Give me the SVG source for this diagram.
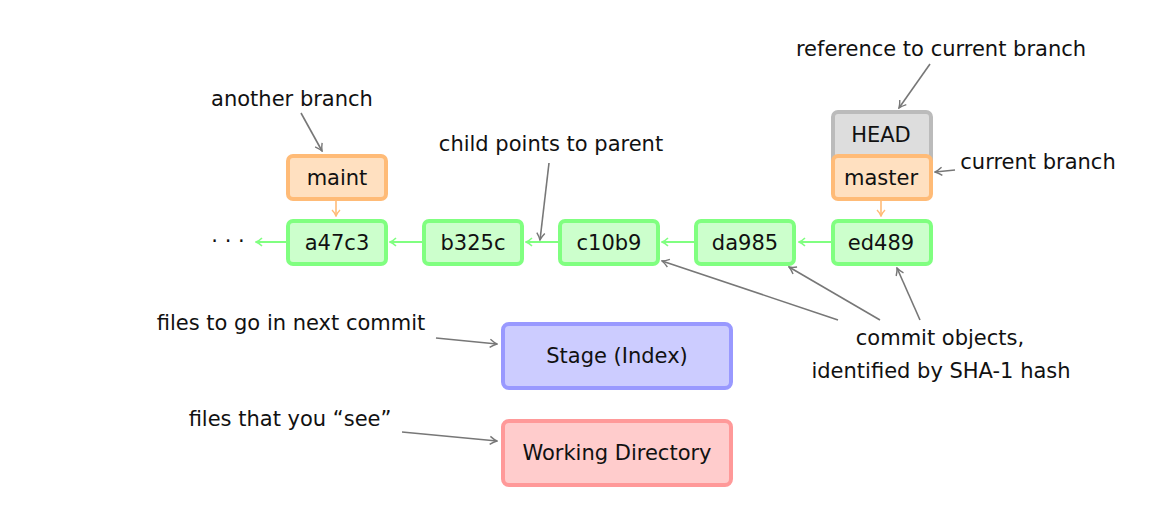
<svg xmlns="http://www.w3.org/2000/svg" width="1167" height="508" viewBox="0 0 1167 508">
  <defs>
    <style>
      text { font-family: "DejaVu Sans", "Liberation Sans", sans-serif; font-size: 21px; fill: #111; text-anchor: middle; }
      .box { stroke-width: 4; }
      .commit { fill: #ccffcc; stroke: #80ff80; }
      .branch { fill: #ffe0c0; stroke: #ffbb77; }
      .head { fill: #dddddd; stroke: #bbbbbb; }
      .stage { fill: #ccccff; stroke: #9999ff; }
      .work { fill: #ffcccc; stroke: #ff9999; }
      .gl { stroke: #80ff80; stroke-width: 2; fill: none; }
      .ol { stroke: #ffbb77; stroke-width: 1.6; fill: none; }
      .kl { stroke: #777; stroke-width: 1.6; fill: none; }
    </style>
    <marker id="ag" viewBox="-6 -5 8 10" refX="1" refY="0" markerWidth="8" markerHeight="10" markerUnits="userSpaceOnUse" orient="auto">
      <path d="M-5,-4 Q-2,-1 1,0 Q-2,1 -5,4" fill="none" stroke="#80ff80" stroke-width="1.6"/>
    </marker>
    <marker id="ao" viewBox="-6 -5 8 10" refX="1" refY="0" markerWidth="8" markerHeight="10" markerUnits="userSpaceOnUse" orient="auto">
      <path d="M-5,-4 Q-2,-1 1,0 Q-2,1 -5,4" fill="none" stroke="#ffbb77" stroke-width="1.4"/>
    </marker>
    <marker id="ak" viewBox="-7 -5 9 10" refX="1" refY="0" markerWidth="9" markerHeight="10" markerUnits="userSpaceOnUse" orient="auto">
      <path d="M-6,-4 Q-2,-1 1,0 Q-2,1 -6,4" fill="none" stroke="#777" stroke-width="1.4"/>
    </marker>
  </defs>
  <rect width="1167" height="508" fill="#fff"/>

  <!-- connectors -->
  <g id="connectors">
    <line class="gl" x1="286" y1="242" x2="256" y2="242" marker-end="url(#ag)"/>
    <line class="gl" x1="422" y1="242" x2="390" y2="242" marker-end="url(#ag)"/>
    <line class="gl" x1="558" y1="242" x2="526" y2="242" marker-end="url(#ag)"/>
    <line class="gl" x1="694" y1="242" x2="662" y2="242" marker-end="url(#ag)"/>
    <line class="gl" x1="831" y1="242" x2="799" y2="242" marker-end="url(#ag)"/>
    <line class="ol" x1="336" y1="200" x2="336" y2="216" marker-end="url(#ao)"/>
    <line class="ol" x1="881" y1="200" x2="881" y2="216" marker-end="url(#ao)"/>
    <line class="kl" x1="301" y1="113" x2="322" y2="151" marker-end="url(#ak)"/>
    <line class="kl" x1="549" y1="163" x2="540" y2="240" marker-end="url(#ak)"/>
    <line class="kl" x1="930" y1="64" x2="899" y2="108" marker-end="url(#ak)"/>
    <line class="kl" x1="955" y1="170" x2="935" y2="172" marker-end="url(#ak)"/>
    <line class="kl" x1="838" y1="320" x2="662" y2="261" marker-end="url(#ak)"/>
    <line class="kl" x1="880" y1="320" x2="789" y2="267" marker-end="url(#ak)"/>
    <line class="kl" x1="920" y1="320" x2="897" y2="268" marker-end="url(#ak)"/>
    <line class="kl" x1="436" y1="338" x2="497" y2="344" marker-end="url(#ak)"/>
    <line class="kl" x1="402" y1="432" x2="497" y2="441" marker-end="url(#ak)"/>
  </g>

  <!-- annotations -->
  <g id="labels">
    <text x="292" y="106">another branch</text>
    <text x="551" y="151">child points to parent</text>
    <text x="941" y="56">reference to current branch</text>
    <text x="1038" y="169">current branch</text>
    <text x="940" y="345">commit objects,</text>
    <text x="941" y="378">identified by SHA-1 hash</text>
    <text x="291" y="330">files to go in next commit</text>
    <text x="290" y="426">files that you “see”</text>
    <text x="228" y="248">· · ·</text>
  </g>

  <g id="head">
    <rect class="box head" x="833" y="112" width="98" height="60" rx="5"/>
    <text x="881" y="142">HEAD</text>
  </g>
  <g id="master">
    <rect class="box branch" x="833" y="156" width="98" height="43" rx="5"/>
    <text x="881" y="185">master</text>
  </g>
  <g id="maint">
    <rect class="box branch" x="288" y="156" width="98" height="43" rx="5"/>
    <text x="337" y="185">maint</text>
  </g>

  <g id="a47c3">
    <rect class="box commit" x="288" y="221" width="98" height="43" rx="5"/>
    <text x="337" y="250">a47c3</text>
  </g>
  <g id="b325c">
    <rect class="box commit" x="424" y="221" width="98" height="43" rx="5"/>
    <text x="473" y="250">b325c</text>
  </g>
  <g id="c10b9">
    <rect class="box commit" x="560" y="221" width="98" height="43" rx="5"/>
    <text x="609" y="250">c10b9</text>
  </g>
  <g id="da985">
    <rect class="box commit" x="696" y="221" width="98" height="43" rx="5"/>
    <text x="745" y="250">da985</text>
  </g>
  <g id="ed489">
    <rect class="box commit" x="833" y="221" width="98" height="43" rx="5"/>
    <text x="881" y="250">ed489</text>
  </g>

  <g id="stage">
    <rect class="box stage" x="503" y="324" width="228" height="64" rx="6"/>
    <text x="617" y="363">Stage (Index)</text>
  </g>
  <g id="working-directory">
    <rect class="box work" x="503" y="421" width="228" height="64" rx="6"/>
    <text x="617" y="460">Working Directory</text>
  </g>
</svg>
